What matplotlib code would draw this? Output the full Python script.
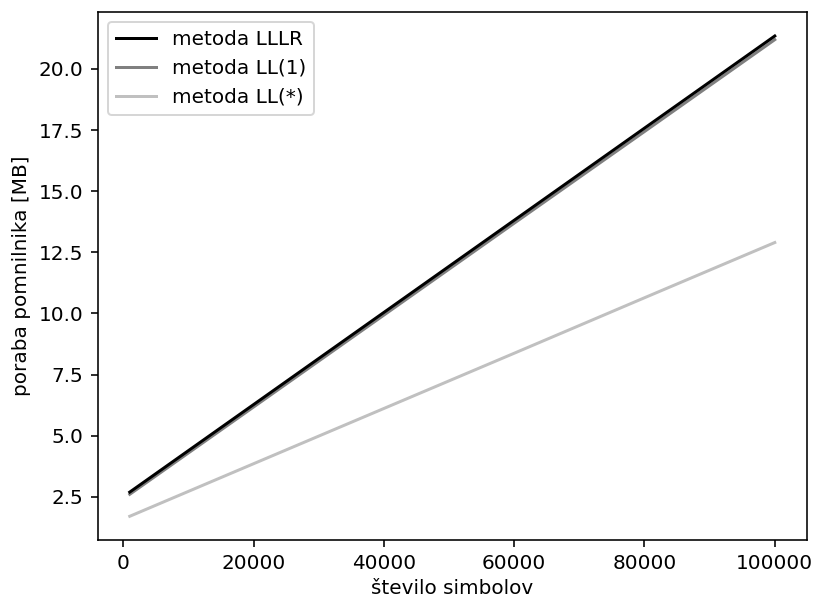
import matplotlib
matplotlib.use("Agg")
import matplotlib.pyplot as plt

# stevilo simbolov
x_simboli = [1000, 20000, 40000, 60000, 80000, 100000]
# poraba pomnilnika [MB]
lllr = [2.69, 6.27, 10.04, 13.81, 17.58, 21.35]
ll1 = [2.60, 6.17, 9.93, 13.69, 17.44, 21.20]
ll_star = [1.70, 3.85, 6.11, 8.37, 10.64, 12.90]

DPI = 144
fig = plt.figure(figsize=(816 / DPI, 599 / DPI), dpi=DPI)
ax = fig.add_axes([0.1195, 0.098, 0.8695, 0.882])

ax.plot(x_simboli, lllr, color="black", lw=1.5, label="metoda LLLR", zorder=3)
ax.plot(x_simboli, ll1, color="gray", lw=1.5, label="metoda LL(1)", zorder=2)
ax.plot(x_simboli, ll_star, color="silver", lw=1.5, label="metoda LL(*)")

ax.set_xlabel("število simbolov", labelpad=3)
ax.set_ylabel("poraba pomnilnika [MB]")
ax.legend(loc="upper left")

fig.savefig("out.png", dpi=DPI)
